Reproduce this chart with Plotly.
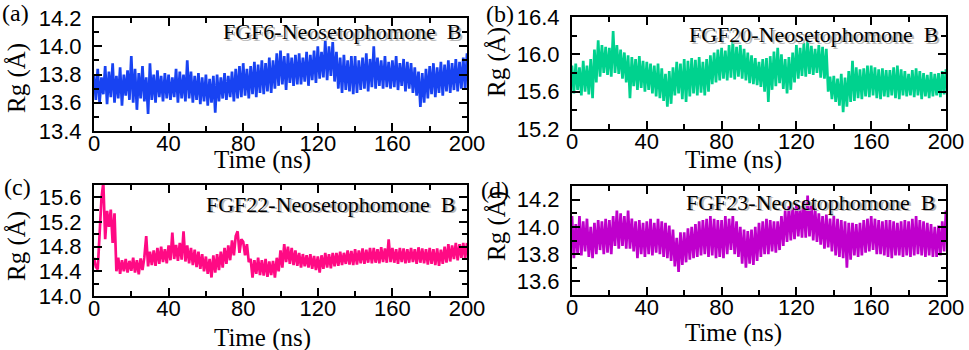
import plotly.graph_objects as go

W, H = 969, 350

# simulation time, one frame per ns
time_ns = list(range(201))

rg_fgf6 = [
    13.80, 13.62, 13.84, 13.60, 13.78, 13.66, 13.86, 13.59, 13.82, 13.64,
    13.88, 13.60, 13.79, 13.63, 13.85, 13.58, 13.80, 13.65, 13.83, 13.62,
    13.93, 13.60, 13.84, 13.55, 13.81, 13.63, 13.86, 13.61, 13.78, 13.52,
    13.88, 13.62, 13.80, 13.60, 13.83, 13.64, 13.79, 13.61, 13.81, 13.63,
    13.80, 13.62, 13.78, 13.64, 13.84, 13.60, 13.82, 13.63, 13.80, 13.61,
    13.90, 13.63, 13.82, 13.60, 13.79, 13.62, 13.81, 13.59, 13.78, 13.61,
    13.80, 13.58, 13.77, 13.60, 13.79, 13.53, 13.80, 13.61, 13.78, 13.63,
    13.81, 13.62, 13.79, 13.64, 13.82, 13.61, 13.84, 13.63, 13.86, 13.64,
    13.88, 13.65, 13.84, 13.63, 13.86, 13.66, 13.89, 13.64, 13.87, 13.67,
    13.90, 13.66, 13.88, 13.68, 13.92, 13.67, 13.90, 13.70, 13.95, 13.72,
    13.97, 13.73, 13.93, 13.69, 13.95, 13.74, 13.92, 13.72, 13.94, 13.73,
    13.95, 13.73, 13.92, 13.75, 13.96, 13.72, 13.94, 13.76, 13.97, 13.74,
    14.00, 13.77, 13.96, 13.78, 14.04, 13.76, 14.00, 13.79, 14.03, 13.75,
    13.96, 13.70, 13.92, 13.67, 13.94, 13.69, 13.90, 13.68, 13.93, 13.66,
    13.93, 13.67, 13.90, 13.69, 13.92, 13.70, 13.95, 13.68, 13.91, 13.71,
    14.00, 13.70, 13.92, 13.72, 13.90, 13.70, 13.93, 13.71, 13.89, 13.70,
    13.90, 13.71, 13.93, 13.69, 13.88, 13.72, 13.91, 13.68, 13.89, 13.70,
    13.88, 13.67, 13.85, 13.65, 13.82, 13.57, 13.81, 13.60, 13.84, 13.63,
    13.86, 13.66, 13.88, 13.64, 13.85, 13.67, 13.89, 13.65, 13.87, 13.68,
    13.90, 13.67, 13.88, 13.69, 13.91, 13.68, 13.89, 13.70, 13.92, 13.69,
    13.95,
]

rg_fgf20 = [
    15.88, 15.58, 15.90, 15.62, 15.86, 15.56, 15.93, 15.60, 15.88, 15.57,
    15.95, 15.53, 16.05, 15.70, 16.15, 15.76, 16.10, 15.80, 16.08, 15.78,
    16.07, 15.76, 16.25, 15.80, 16.10, 15.79, 16.05, 15.74, 16.02, 15.70,
    15.99, 15.53, 15.97, 15.66, 15.95, 15.62, 15.98, 15.64, 15.93, 15.60,
    15.92, 15.62, 15.90, 15.58, 15.88, 15.55, 15.90, 15.53, 15.85, 15.50,
    15.79, 15.44, 15.82, 15.47, 15.86, 15.56, 15.92, 15.58, 15.90, 15.52,
    15.95, 15.49, 15.93, 15.55, 15.96, 15.58, 15.94, 15.56, 15.97, 15.59,
    15.92, 15.56, 15.95, 15.60, 15.99, 15.68, 16.02, 15.70, 16.05, 15.72,
    16.07, 15.74, 16.04, 15.72, 16.10, 15.75, 16.14, 15.73, 16.08, 15.76,
    16.10, 15.74, 16.06, 15.72, 16.02, 15.69, 15.99, 15.68, 15.96, 15.67,
    15.92, 15.65, 15.95, 15.60, 15.96, 15.49, 15.98, 15.62, 16.03, 15.66,
    16.07, 15.69, 16.00, 15.63, 15.95, 15.58, 15.97, 15.62, 16.02, 15.70,
    16.10, 15.74, 16.07, 15.77, 16.12, 15.76, 16.14, 15.79, 16.09, 15.78,
    16.06, 15.80, 16.10, 15.75, 16.08, 15.74, 16.06, 15.60, 15.76, 15.52,
    15.77, 15.49, 15.74, 15.45, 15.79, 15.38, 15.75, 15.44, 15.82, 15.49,
    15.93, 15.50, 15.86, 15.53, 15.84, 15.52, 15.85, 15.55, 15.88, 15.54,
    15.88, 15.56, 15.86, 15.53, 15.84, 15.52, 15.85, 15.55, 15.83, 15.54,
    15.83, 15.56, 15.86, 15.53, 15.88, 15.52, 15.84, 15.56, 15.82, 15.55,
    15.79, 15.56, 15.83, 15.54, 15.85, 15.56, 15.82, 15.52, 15.80, 15.55,
    15.78, 15.53, 15.81, 15.55, 15.79, 15.56, 15.80, 15.54, 15.82, 15.57,
    15.84,
]

rg_fgf22 = [
    14.62, 14.47, 14.43, 14.95, 15.58, 15.84, 14.92, 15.38, 15.12, 15.40,
    14.86, 15.34, 14.40, 14.62, 14.36, 14.58, 14.40, 14.60, 14.38, 14.57,
    14.41, 14.62, 14.38, 14.58, 14.35, 14.61, 14.42, 14.63, 14.97, 14.48,
    14.72, 14.50, 14.74, 14.49, 14.78, 14.52, 14.80, 14.55, 14.76, 14.53,
    14.82, 14.58, 15.03, 14.60, 14.83, 14.57, 14.86, 14.59, 15.05, 14.56,
    14.82, 14.53, 14.78, 14.50, 14.75, 14.47, 14.72, 14.44, 14.68, 14.40,
    14.64, 14.36, 14.60, 14.30, 14.66, 14.38, 14.68, 14.42, 14.72, 14.46,
    14.78, 14.52, 14.82, 14.58, 14.90, 14.66, 14.97, 15.05, 14.70, 14.92,
    14.88, 14.66, 14.84, 14.55, 14.60, 14.30, 14.58, 14.36, 14.62, 14.34,
    14.58, 14.33, 14.60, 14.31, 14.56, 14.34, 14.57, 14.30, 14.62, 14.40,
    14.74, 14.46, 14.84, 14.55, 14.80, 14.52, 14.78, 14.50, 14.74, 14.49,
    14.70, 14.46, 14.68, 14.48, 14.66, 14.46, 14.68, 14.44, 14.65, 14.42,
    14.64, 14.38, 14.66, 14.44, 14.70, 14.46, 14.68, 14.45, 14.70, 14.48,
    14.70, 14.49, 14.72, 14.50, 14.70, 14.52, 14.74, 14.51, 14.73, 14.50,
    14.76, 14.51, 14.74, 14.53, 14.77, 14.52, 14.75, 14.54, 14.78, 14.53,
    14.78, 14.54, 14.76, 14.53, 14.79, 14.55, 14.77, 14.54, 14.92, 14.55,
    14.78, 14.54, 14.76, 14.52, 14.78, 14.55, 14.77, 14.53, 14.76, 14.54,
    14.78, 14.55, 14.76, 14.52, 14.79, 14.54, 14.77, 14.53, 14.76, 14.51,
    14.78, 14.52, 14.76, 14.50, 14.77, 14.49, 14.75, 14.52, 14.80, 14.54,
    14.84, 14.56, 14.82, 14.60, 14.86, 14.58, 14.84, 14.62, 14.86, 14.61,
    14.86,
]

rg_fgf23 = [
    14.08, 13.77, 14.02, 13.80, 14.08, 13.79, 14.04, 13.82, 14.06, 13.78,
    14.00, 13.77, 14.03, 13.80, 14.05, 13.83, 14.04, 13.80, 14.06, 13.81,
    14.05, 13.80, 14.08, 13.86, 14.12, 13.84, 14.10, 13.86, 14.08, 13.84,
    14.12, 13.84, 14.06, 13.82, 14.04, 13.77, 14.05, 13.80, 14.03, 13.78,
    14.04, 13.80, 14.06, 13.79, 14.03, 13.81, 14.06, 13.80, 14.04, 13.78,
    14.03, 13.77, 14.01, 13.75, 13.98, 13.71, 13.92, 13.67, 13.96, 13.72,
    13.96, 13.74, 13.99, 13.76, 14.00, 13.77, 14.02, 13.78, 14.04, 13.79,
    14.05, 13.80, 14.06, 13.78, 14.08, 13.79, 14.06, 13.77, 14.05, 13.78,
    14.05, 13.77, 14.08, 13.80, 14.06, 13.83, 14.08, 13.80, 14.04, 13.78,
    14.00, 13.73, 13.98, 13.70, 13.97, 13.73, 13.98, 13.72, 14.00, 13.75,
    14.03, 13.78, 14.04, 13.80, 14.06, 13.80, 14.05, 13.82, 14.04, 13.81,
    14.04, 13.83, 14.08, 13.86, 14.12, 13.89, 14.15, 13.90, 14.14, 13.91,
    14.17, 13.93, 14.15, 13.92, 14.19, 13.92, 14.23, 13.93, 14.16, 13.90,
    14.14, 13.89, 14.10, 13.87, 14.08, 13.84, 14.09, 13.85, 14.06, 13.82,
    14.08, 13.79, 14.06, 13.78, 14.05, 13.77, 14.04, 13.70, 14.03, 13.76,
    14.03, 13.79, 14.02, 13.78, 14.03, 13.79, 14.05, 13.81, 14.06, 13.82,
    14.08, 13.83, 14.06, 13.80, 14.05, 13.80, 14.04, 13.79, 14.05, 13.78,
    14.05, 13.77, 14.04, 13.79, 14.03, 13.79, 14.04, 13.78, 14.05, 13.79,
    14.04, 13.78, 14.06, 13.79, 14.08, 13.80, 14.05, 13.79, 14.04, 13.78,
    14.03, 13.79, 14.02, 13.78, 14.00, 13.78, 14.01, 13.79, 14.04, 13.82,
    14.12,
]

SANS = "Liberation Sans, Arial, sans-serif"
SERIF = "Liberation Serif, Times New Roman, serif"


def fx(p):
    return p / W


def fy(p):
    return 1 - p / H


# pixel boxes of each panel and where its texts sit
panels = [
    dict(data=rg_fgf6, color="#1843f2", box=(94, 467, 18, 131),
         yrange=[13.4, 14.2], dtick=0.2, minor=0.1, tag="(a)", tag_at=(16, 13),
         name="FGF6-Neosetophomone&nbsp; B", name_at=(463, 32),
         ytitle_at=(17, 78), xtitle_at=(262, 160)),
    dict(data=rg_fgf20, color="#00d28e", box=(572, 946, 17, 129),
         yrange=[15.2, 16.4], dtick=0.4, minor=0.2, tag="(b)", tag_at=(500, 14),
         name="FGF20-Neosetophomone&nbsp; B", name_at=(940, 35),
         ytitle_at=(497, 62), xtitle_at=(733, 160)),
    dict(data=rg_fgf22, color="#ff0a84", box=(94, 467, 185, 296),
         yrange=[14.0, 15.8], dtick=0.4, minor=0.2, tag="(c)", tag_at=(17, 187),
         name="FGF22-Neosetophomone&nbsp; B", name_at=(457, 204),
         ytitle_at=(17, 246), xtitle_at=(262, 338)),
    dict(data=rg_fgf23, color="#bf00cc", box=(572, 946, 186, 295),
         yrange=[13.5, 14.3], dtick=0.2, minor=0.1, tag="(d)", tag_at=(495, 190),
         name="FGF23-Neosetophomone&nbsp; B", name_at=(937, 202),
         ytitle_at=(497, 226), xtitle_at=(733, 333)),
]

fig = go.Figure()
layout = {}
annotations = []

for i, p in enumerate(panels, start=1):
    suffix = "" if i == 1 else str(i)
    x0, x1, y0, y1 = p["box"]
    fig.add_trace(
        go.Scatter(
            x=time_ns,
            y=p["data"],
            mode="lines",
            line={"color": p["color"], "width": 2.7},
            xaxis="x" + suffix,
            yaxis="y" + suffix,
            showlegend=False,
        )
    )
    common = dict(
        automargin=False,
        showline=True,
        linecolor="black",
        linewidth=2,
        mirror="ticks",
        ticks="inside",
        ticklen=8,
        tickwidth=2,
        tickcolor="black",
        showgrid=False,
        zeroline=False,
        tickfont={"family": SANS, "size": 22, "color": "black"},
    )
    layout["xaxis" + suffix] = dict(
        common,
        domain=[fx(x0), fx(x1)],
        anchor="y" + suffix,
        range=[0, 200],
        dtick=40,
        tick0=0,
        minor={"dtick": 20, "ticks": "inside", "ticklen": 5, "tickwidth": 2,
               "tickcolor": "black"},
        ticklabelstandoff=-8,
    )
    layout["yaxis" + suffix] = dict(
        common,
        domain=[fy(y1), fy(y0)],
        anchor="x" + suffix,
        range=p["yrange"],
        dtick=p["dtick"],
        tick0=0,
        tickformat=".1f",
        minor={"dtick": p["minor"], "ticks": "inside", "ticklen": 5,
               "tickwidth": 2, "tickcolor": "black"},
        ticklabelstandoff=6,
    )

    serif = {"family": SERIF, "color": "black"}
    nx, ny = p["name_at"]
    base = dict(xref="paper", yref="paper", showarrow=False)
    annotations += [
        dict(base, text=p["name"], x=fx(nx + 1.5), y=fy(ny + 1.5),
             xanchor="right", yanchor="middle",
             font=dict(serif, size=22, color="#b8b8b8")),
        dict(base, text=p["name"], x=fx(nx), y=fy(ny), xanchor="right",
             yanchor="middle", font=dict(serif, size=22)),
        dict(base, text=p["tag"], x=fx(p["tag_at"][0]), y=fy(p["tag_at"][1]),
             xanchor="center", yanchor="middle", font=dict(serif, size=24)),
        dict(base, text="Rg (Å)", x=fx(p["ytitle_at"][0]),
             y=fy(p["ytitle_at"][1]), xanchor="center", yanchor="middle",
             textangle=-90, font=dict(serif, size=25)),
        dict(base, text="Time (ns)", x=fx(p["xtitle_at"][0]),
             y=fy(p["xtitle_at"][1]), xanchor="center", yanchor="middle",
             font=dict(serif, size=25)),
    ]

fig.update_layout(
    **layout,
    annotations=annotations,
    width=W,
    height=H,
    margin={"l": 0, "r": 0, "t": 0, "b": 0},
    paper_bgcolor="white",
    plot_bgcolor="white",
)
# drop the page's default body margin so the figure sits at the window corner
fig.write_html(
    "out.html",
    config={"displayModeBar": False},
    post_script="document.body.style.margin = '0';",
)
